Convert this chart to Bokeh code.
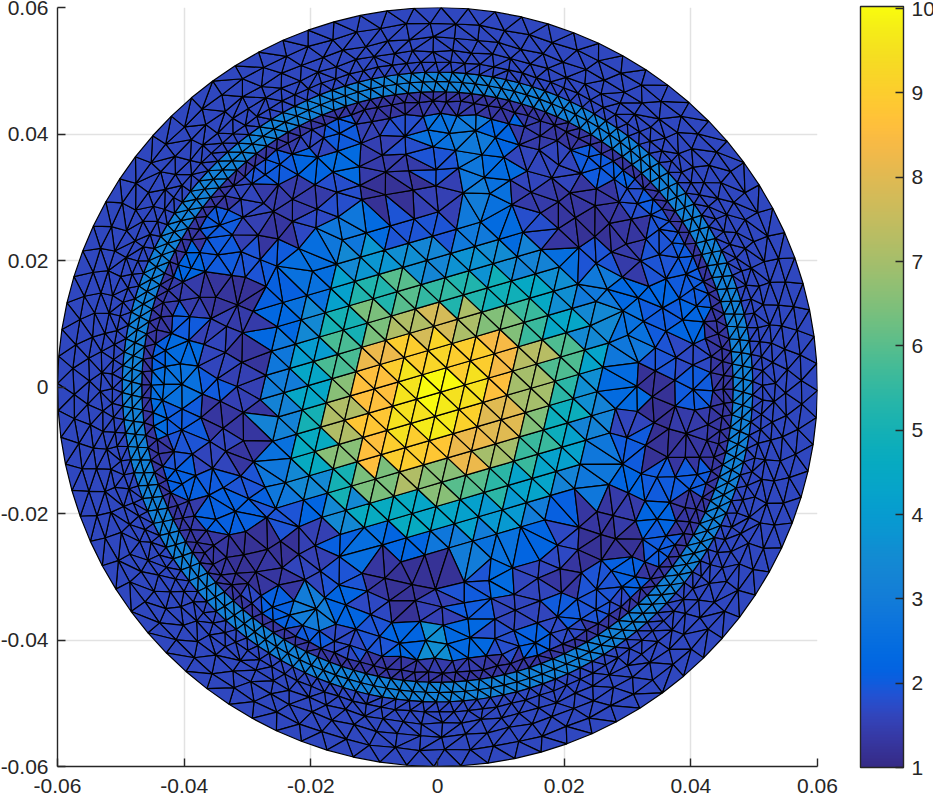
import numpy as np
from bokeh.plotting import figure
from bokeh.models import ColumnDataSource, LinearColorMapper, ColorBar, FixedTicker, Range1d
from bokeh.transform import transform
from bokeh.embed import file_html
from bokeh.resources import INLINE

# ---------- values ----------
x_ticks = [-0.06, -0.04, -0.02, 0, 0.02, 0.04, 0.06]
x_tick_labels = ["-0.06", "-0.04", "-0.02", "0", "0.02", "0.04", "0.06"]
cbar_ticks = [1, 2, 3, 4, 5, 6, 7, 8, 9, 10]
value_low = 1.0
value_high = 10.025

# field values over the inner disc; rows y = +0.045 .. -0.045, cols x = -0.045 .. +0.045 (step 0.005)
table_step = 0.005
table_edge = 0.045
value_rows = [
 [1.3,1.3,1.3,1.3,1.3,1.3,1.3,1.3,1.3,1.4,1.4,1.3,1.3,1.3,1.3,1.3,1.3,1.3,1.3],
 [1.3,1.3,1.3,1.3,1.4,1.6,2.0,1.5,1.8,2.6,2.9,2.2,1.4,1.3,1.8,1.3,1.3,1.3,1.3],
 [1.3,1.3,1.3,1.9,2.0,2.2,2.4,1.4,1.4,1.9,2.8,2.4,1.6,1.6,2.0,2.1,1.3,1.3,1.3],
 [1.3,1.3,1.3,1.6,1.4,1.4,1.8,1.2,1.2,1.5,3.0,2.6,1.4,1.3,1.3,1.8,2.0,1.3,1.3],
 [1.3,1.3,2.0,1.5,1.3,1.7,2.8,2.4,1.9,1.9,2.9,2.4,1.8,1.3,1.2,1.3,1.9,2.0,1.3],
 [1.3,2.2,2.0,1.9,2.0,2.5,3.4,3.8,3.6,3.3,3.7,3.5,3.2,2.5,1.9,1.4,1.9,2.0,1.3],
 [1.3,1.4,1.25,1.2,2.1,2.6,4.2,5.2,6.0,5.5,5.2,4.9,4.5,3.6,2.9,2.3,2.2,2.0,1.3],
 [1.3,2.0,1.5,1.4,2.3,3.4,5.0,6.4,7.2,7.8,7.1,6.5,5.6,4.4,3.4,2.6,2.0,2.2,1.3],
 [2.1,2.4,1.6,1.25,2.8,4.0,5.8,8.2,9.0,9.2,9.0,8.4,7.3,5.9,4.3,2.8,1.9,1.7,1.3],
 [2.5,2.6,2.0,1.5,3.0,4.4,6.6,8.6,9.6,10.0,9.5,8.6,7.0,5.4,3.6,2.4,1.2,2.0,1.3],
 [2.4,2.0,1.3,1.3,3.2,5.0,7.2,8.8,9.5,9.7,9.1,8.0,6.5,4.8,3.2,1.6,1.15,1.4,1.3],
 [1.3,1.9,1.6,1.3,2.6,4.6,6.6,8.6,9.0,8.8,8.2,7.0,5.6,4.2,2.8,2.0,1.2,1.3,1.3],
 [1.3,2.1,2.0,1.9,2.8,3.4,5.0,6.4,7.2,6.6,6.0,5.4,4.3,3.2,2.8,2.2,2.0,2.0,1.3],
 [1.3,1.4,2.1,2.1,1.9,2.2,3.4,4.6,4.6,4.4,4.2,3.9,3.0,2.1,1.3,1.4,2.2,1.3,1.3],
 [1.3,1.3,1.3,1.2,1.2,1.5,2.1,2.5,2.2,2.8,3.0,2.6,2.2,1.7,1.2,1.2,2.0,1.3,1.3],
 [1.3,1.3,1.3,1.2,1.3,1.6,1.9,1.3,1.2,1.2,1.9,2.4,1.6,1.3,1.9,2.1,1.3,1.3,1.3],
 [1.3,1.3,1.3,1.7,2.1,3.0,2.2,1.7,1.2,1.5,2.0,1.6,1.6,2.0,1.9,1.7,1.3,1.3,1.3],
 [1.3,1.3,1.3,1.3,1.5,2.0,1.7,1.9,2.2,3.6,2.3,1.8,2.1,1.7,1.3,1.3,1.3,1.3,1.3],
 [1.3,1.3,1.3,1.3,1.3,1.3,1.3,1.3,1.3,1.4,1.4,1.3,1.3,1.3,1.3,1.3,1.3,1.3,1.3],
]
dark_ring_value = 1.3
band_value = 3.15
outer_value = 1.65
table_limit = 0.0448
band_inner = 0.0467
band_outer = 0.0498
disc_radius = 0.06

# mesh layout: concentric node rings and the central lattice
ring_radii  = [0.0315,0.0345,0.0375,0.0405,0.0432,0.0452,0.0467,0.0483,0.0498,0.0514,0.0532,0.0552,0.0575,0.0600]
ring_counts = [48,54,60,70,100,130,146,146,146,140,108,98,92,88]
ring_wobble = [0.7,0.7,0.7,0.7,0.5,0.3,0,0,0,0.2,0.45,0.45,0.3,0]
wobble_cycle = [0.0,0.8,-0.6,0.3,-0.9,0.5,-0.2]
lattice_a = (0.00379, 0.00111)
lattice_b = (0.00289, -0.00273)
lattice_origin = (0.0005, -0.0008)
lattice_limit = 0.0285

parula = [(0.2081,0.1663,0.5292),(0.2116,0.1898,0.5777),(0.2123,0.2138,0.6270),(0.2081,0.2386,0.6771),(0.1959,0.2645,0.7279),(0.1707,0.2919,0.7792),(0.1253,0.3242,0.8303),(0.0591,0.3598,0.8683),
(0.0117,0.3875,0.8820),(0.0060,0.4086,0.8828),(0.0165,0.4266,0.8786),(0.0329,0.4430,0.8720),(0.0498,0.4586,0.8641),(0.0629,0.4737,0.8554),(0.0723,0.4887,0.8467),(0.0779,0.5040,0.8384),
(0.0793,0.5200,0.8312),(0.0749,0.5375,0.8263),(0.0641,0.5570,0.8240),(0.0488,0.5772,0.8228),(0.0343,0.5966,0.8199),(0.0265,0.6137,0.8135),(0.0239,0.6287,0.8038),(0.0231,0.6418,0.7913),
(0.0228,0.6535,0.7768),(0.0267,0.6642,0.7607),(0.0384,0.6743,0.7436),(0.0590,0.6838,0.7254),(0.0843,0.6928,0.7062),(0.1133,0.7015,0.6859),(0.1453,0.7098,0.6646),(0.1801,0.7177,0.6424),
(0.2178,0.7250,0.6193),(0.2586,0.7317,0.5954),(0.3022,0.7376,0.5712),(0.3482,0.7424,0.5473),(0.3953,0.7459,0.5244),(0.4420,0.7481,0.5033),(0.4871,0.7491,0.4840),(0.5300,0.7491,0.4661),
(0.5709,0.7485,0.4494),(0.6099,0.7473,0.4337),(0.6473,0.7456,0.4188),(0.6834,0.7435,0.4044),(0.7184,0.7411,0.3905),(0.7525,0.7384,0.3768),(0.7858,0.7356,0.3633),(0.8185,0.7327,0.3498),
(0.8507,0.7299,0.3360),(0.8824,0.7274,0.3217),(0.9139,0.7258,0.3063),(0.9450,0.7261,0.2886),(0.9739,0.7314,0.2666),(0.9938,0.7455,0.2403),(0.9990,0.7653,0.2164),(0.9955,0.7861,0.1967),
(0.9880,0.8066,0.1794),(0.9789,0.8271,0.1633),(0.9697,0.8481,0.1475),(0.9626,0.8705,0.1309),(0.9589,0.8949,0.1132),(0.9598,0.9218,0.0948),(0.9661,0.9514,0.0755),(0.9763,0.9831,0.0538)]

# ---------- mesh ----------
def mesh_nodes():
    pts = []
    for i in range(-11, 12):
        for j in range(-11, 12):
            x = lattice_origin[0] + i*lattice_a[0] + j*lattice_b[0]
            y = lattice_origin[1] + i*lattice_a[1] + j*lattice_b[1]
            if x*x + y*y < lattice_limit**2:
                pts.append((x, y))
    prev = lattice_limit
    for k, (r, n, w) in enumerate(zip(ring_radii, ring_counts, ring_wobble)):
        gap = r - prev
        prev = r
        for m in range(n):
            t = 2*np.pi*(m + 0.5*(k % 2))/n + 0.013*k
            rr = r + w*0.28*gap*wobble_cycle[m % len(wobble_cycle)]
            tt = t + w*0.12*(2*np.pi/n)*wobble_cycle[(m+3) % len(wobble_cycle)]
            pts.append((rr*np.cos(tt), rr*np.sin(tt)))
    return np.array(pts)

def delaunay(points):
    S = 100.0
    P = np.vstack([points, [[-S, -S], [S*3, -S], [-S, S*3]]])
    N = len(points)
    def circ(a, b, c):
        ax, ay = P[a]; bx, by = P[b]; cx, cy = P[c]
        d = 2*(ax*(by-cy) + bx*(cy-ay) + cx*(ay-by))
        ux = ((ax*ax+ay*ay)*(by-cy) + (bx*bx+by*by)*(cy-ay) + (cx*cx+cy*cy)*(ay-by))/d
        uy = ((ax*ax+ay*ay)*(cx-bx) + (bx*bx+by*by)*(ax-cx) + (cx*cx+cy*cy)*(bx-ax))/d
        return ux, uy, (ax-ux)**2 + (ay-uy)**2
    T = np.array([[N, N+1, N+2]])
    C = np.array([circ(N, N+1, N+2)])
    for i in range(N):
        px, py = P[i]
        bad = (px-C[:, 0])**2 + (py-C[:, 1])**2 < C[:, 2]*(1 - 1e-12)
        edges = {}
        for a, b, c in T[bad]:
            for e in ((a, b), (b, c), (c, a)):
                key = (min(e), max(e))
                edges[key] = edges.get(key, 0) + 1
        new = [e for e, cnt in edges.items() if cnt == 1]
        T = np.vstack([T[~bad], [[e[0], e[1], i] for e in new]])
        C = np.vstack([C[~bad], [circ(e[0], e[1], i) for e in new]])
    return T[(T < N).all(axis=1)]

nodes = mesh_nodes()
tris = delaunay(nodes)
centroids = nodes[tris].mean(axis=1)
tris = tris[np.hypot(centroids[:, 0], centroids[:, 1]) < disc_radius]
centroids = nodes[tris].mean(axis=1)

table = np.array(value_rows)
def value_at(x, y):
    r = np.hypot(x, y)
    if r > band_outer:
        return outer_value
    if r > band_inner:
        return band_value
    if r > table_limit:
        return dark_ring_value
    col = int(round((x + table_edge)/table_step))
    row = int(round((table_edge - y)/table_step))
    return table[min(max(row, 0), 18), min(max(col, 0), 18)]

vals = [value_at(cx, cy) for cx, cy in centroids]
src = ColumnDataSource(dict(
    xs=[list(nodes[t, 0]) for t in tris],
    ys=[list(nodes[t, 1]) for t in tris],
    v=vals))

# ---------- figure ----------
ramp = np.array(parula)*255
pos = np.linspace(0, 63, 256)
palette = ["#%02x%02x%02x" % tuple(int(round(np.interp(q, range(64), ramp[:, k]))) for k in range(3)) for q in pos]
mapper = LinearColorMapper(palette=palette, low=value_low, high=value_high)

TXT = "#262626"
FS = "21px"
p = figure(width=936, height=798, frame_width=760, frame_height=759,
           output_backend="svg", toolbar_location=None,
           x_range=Range1d(-0.06, 0.06), y_range=Range1d(-0.06, 0.06),
           min_border_left=57, min_border_right=116, min_border_top=7, min_border_bottom=32,
           margin=(0, 0, 0, -3), background_fill_color="white", outline_line_color=None)
p.patches("xs", "ys", source=src, fill_color=transform("v", mapper),
          line_color="#000000", line_width=1.2)

label_map = {t: s for t, s in zip(x_ticks, x_tick_labels)}
for ax, sto in ((p.xaxis[0], 12), (p.yaxis[0], 9)):
    ax.ticker = FixedTicker(ticks=x_ticks)
    ax.major_label_overrides = label_map
    ax.major_label_text_font = "Liberation Sans"
    ax.major_label_text_font_size = FS
    ax.major_label_text_color = TXT
    ax.axis_line_color = TXT
    ax.axis_line_width = 1.4
    ax.major_tick_line_color = TXT
    ax.major_tick_line_width = 1.4
    ax.major_tick_in = 8
    ax.major_tick_out = 0
    ax.minor_tick_line_color = None
    ax.major_label_standoff = sto
p.xgrid[0].ticker = FixedTicker(ticks=x_ticks)
p.ygrid[0].ticker = FixedTicker(ticks=x_ticks)
for g in (p.xgrid[0], p.ygrid[0]):
    g.grid_line_color = "#e2e2e2"
    g.grid_line_width = 1.5

cb = ColorBar(color_mapper=mapper, ticker=FixedTicker(ticks=cbar_ticks),
              width=43, height=761, padding=0, margin=0, location=(803, -1),
              major_label_text_font="Liberation Sans", major_label_text_font_size=FS,
              major_label_text_color=TXT, major_tick_in=8, major_tick_line_color=TXT,
              major_tick_line_width=1.4, minor_tick_line_color=None,
              bar_line_color=TXT, bar_line_width=1.4, label_standoff=8,
              major_label_overrides={t: str(t) for t in cbar_ticks})
p.add_layout(cb, "center")

open("out.html", "w").write(file_html(p, INLINE))
